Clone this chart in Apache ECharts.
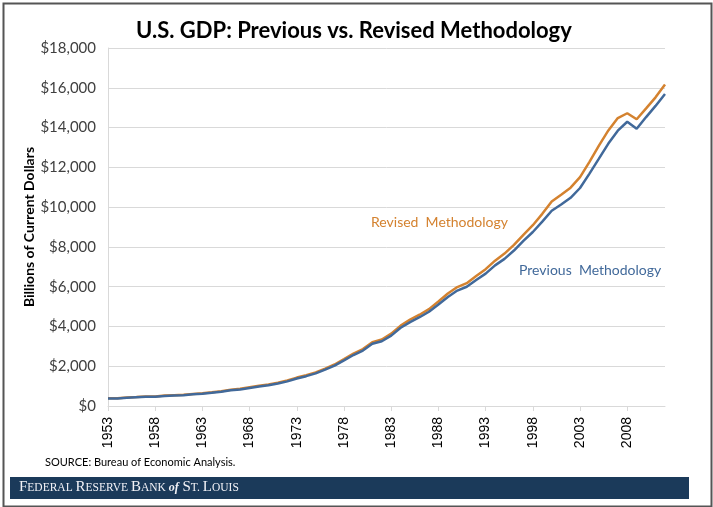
<!DOCTYPE html>
<html>
<head>
<meta charset="utf-8">
<script src="https://cdn.jsdelivr.net/npm/echarts@6/dist/echarts.min.js"></script>
<style>
  html, body { margin: 0; padding: 0; background: #fff; }
  #chart { width: 713px; height: 507px; }
</style>
</head>
<body>
<div id="chart"></div>
<script>
// years 1953-2012
const years = [];
for (let y = 1953; y <= 2012; y++) years.push(String(y));

// Billions of current dollars, previous methodology
const previousGdp = [
  379, 380, 414, 437, 461, 467, 507, 526, 544, 585,
  617, 663, 719, 787, 832, 910, 985, 1039, 1127, 1238,
  1383, 1500, 1638, 1825, 2031, 2295, 2563, 2789, 3128, 3255,
  3537, 3933, 4220, 4463, 4740, 5104, 5484, 5803, 5996, 6338,
  6657, 7072, 7398, 7817, 8304, 8747, 9268, 9817, 10128, 10470,
  10961, 11686, 12434, 13195, 13842, 14292, 13939, 14527, 15088, 15685
];

// Billions of current dollars, revised methodology
const revisedGdp = [
  390, 391, 426, 450, 475, 482, 523, 543, 563, 605,
  639, 686, 744, 815, 862, 943, 1020, 1076, 1168, 1282,
  1429, 1549, 1689, 1878, 2086, 2357, 2632, 2863, 3211, 3345,
  3638, 4041, 4347, 4590, 4870, 5253, 5658, 5980, 6174, 6539,
  6879, 7309, 7664, 8100, 8609, 9089, 9661, 10285, 10622, 10978,
  11511, 12275, 13094, 13856, 14478, 14719, 14419, 14964, 15518, 16163
];

const yTicks = { min: 0, max: 18000, interval: 2000 };

const orange = '#D4822F';
const blue = '#41699A';
const footerText = '#f2f2f7';

const chart = echarts.init(document.getElementById('chart'));

chart.setOption({
  animation: false,
  backgroundColor: '#fff',
  title: {
    text: 'U.S. GDP: Previous vs. Revised Methodology',
    left: 131,
    top: 15,
    textStyle: { fontFamily: 'Lato', fontWeight: 'bold', fontSize: 22, color: '#000' }
  },
  grid: { left: 108, right: 48, top: 48, bottom: 101 },
  xAxis: {
    type: 'category',
    data: years,
    boundaryGap: false,
    axisLine: { lineStyle: { color: '#d9d9d9', width: 1 } },
    axisTick: { interval: 4, length: 5, lineStyle: { color: '#d9d9d9' } },
    axisLabel: {
      interval: 4,
      rotate: 90,
      margin: 11,
      fontFamily: 'Liberation Sans',
      fontSize: 14,
      color: '#000'
    },
    splitLine: { show: false }
  },
  yAxis: {
    type: 'value',
    min: yTicks.min,
    max: yTicks.max,
    interval: yTicks.interval,
    name: 'Billions of Current Dollars',
    nameLocation: 'middle',
    nameGap: 72,
    nameMoveOverlap: false,
    nameTextStyle: { fontFamily: 'Lato', fontWeight: 'bold', fontSize: 14, color: '#000' },
    axisLine: { show: true, lineStyle: { color: '#d9d9d9' } },
    axisTick: { show: false },
    axisLabel: {
      margin: 12,
      fontFamily: 'Lato',
      fontSize: 15,
      color: '#404040',
      formatter: v => '$' + v.toLocaleString('en-US')
    },
    splitLine: { lineStyle: { color: '#d9d9d9', width: 1 } }
  },
  series: [
    {
      name: 'Revised Methodology',
      type: 'line',
      data: revisedGdp,
      showSymbol: false,
      lineStyle: { color: orange, width: 2.5 },
      itemStyle: { color: orange }
    },
    {
      name: 'Previous Methodology',
      type: 'line',
      data: previousGdp,
      showSymbol: false,
      lineStyle: { color: blue, width: 2.5 },
      itemStyle: { color: blue }
    }
  ],
  graphic: [
    {
      type: 'rect',
      left: 1, top: 1,
      shape: { width: 708, height: 503 },
      style: { fill: 'none', stroke: '#555', lineWidth: 2 },
      silent: true
    },
    {
      type: 'text',
      left: 371, top: 215,
      style: { text: 'Revised  Methodology', fill: orange, font: '14px Lato' }
    },
    {
      type: 'text',
      left: 519, top: 263,
      style: { text: 'Previous  Methodology', fill: blue, font: '14px Lato' }
    },
    {
      type: 'text',
      left: 45, top: 457,
      style: { text: 'SOURCE: Bureau of Economic Analysis.', fill: '#000', font: '11px Lato' }
    },
    {
      type: 'rect',
      left: 10, top: 477,
      shape: { width: 679, height: 22 },
      style: { fill: '#1B3A5A' }
    },
    {
      type: 'text',
      left: 19, top: 480,
      style: {
        text: '{b|F}{s|EDERAL }{b|R}{s|ESERVE }{b|B}{s|ANK }{i|of}{b| S}{s|T. }{b|L}{s|OUIS}',
        rich: {
          b: { fontFamily: 'Liberation Serif', fontSize: 15, fill: footerText },
          s: { fontFamily: 'Liberation Serif', fontSize: 11.5, fill: footerText },
          i: { fontFamily: 'Liberation Serif', fontStyle: 'italic', fontWeight: 'bold', fontSize: 12, fill: footerText }
        }
      }
    }
  ]
});
</script>
</body>
</html>
